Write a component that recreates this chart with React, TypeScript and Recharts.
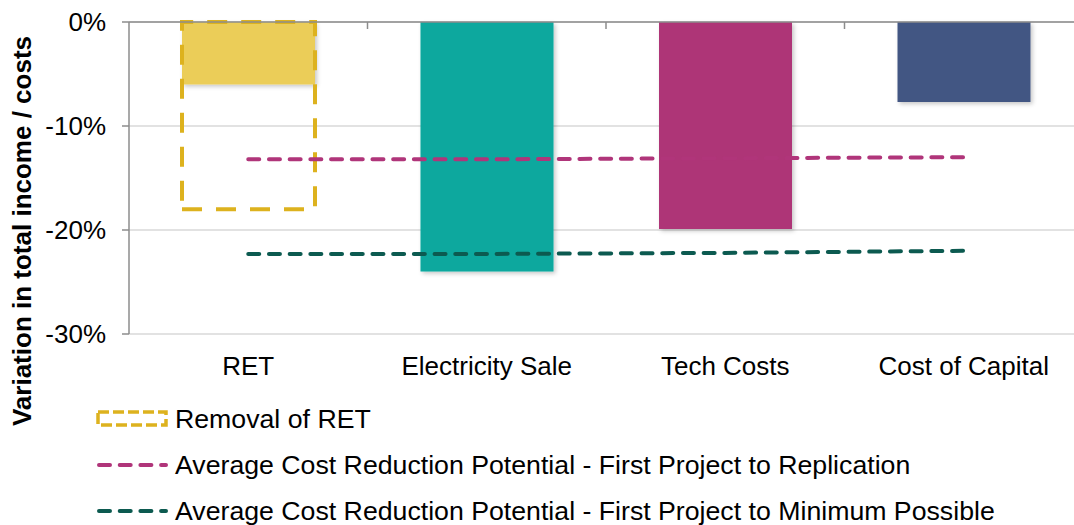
import React from "react";
import {
  ComposedChart,
  Bar,
  Line,
  Cell,
  XAxis,
  YAxis,
  CartesianGrid,
  Legend,
} from "recharts";

const categories = ["RET", "Electricity Sale", "Tech Costs", "Cost of Capital"];
const variation = [-6.0, -24.0, -19.9, -7.7];
const retRemoval = [-18.0, null, null, null];
const firstToReplication = [-13.2, -13.2, -13.1, -13.0];
const firstToMinimum = [-22.3, -22.3, -22.2, -22.0];
const yTicks = [0, -10, -20, -30];

const barColors = ["#EBCD59", "#0AA89E", "#AE3477", "#435783"];
const RET_OUTLINE = "#DDB21E";
const REPLICATION = "#B0357A";
const MINIMUM = "#0C5A50";
const AXIS_GREY = "#8C8C8C";
const FONT = '"Liberation Sans", Arial, sans-serif';
const FONT_SIZE = 26;

const legendItems = [
  { label: "Removal of RET", kind: "box", color: RET_OUTLINE },
  {
    label: "Average Cost Reduction Potential - First Project to Replication",
    kind: "line",
    color: REPLICATION,
  },
  {
    label: "Average Cost Reduction Potential - First Project to Minimum Possible",
    kind: "line",
    color: MINIMUM,
  },
];

const data = categories.map((c, i) => ({
  category: c,
  variation: variation[i],
  retRemoval: retRemoval[i],
  replication: firstToReplication[i],
  minimum: firstToMinimum[i],
}));

function LegendBlock() {
  return (
    <div style={{ fontFamily: FONT, fontSize: 26.7, color: "#000", lineHeight: 1 }}>
      {legendItems.map((it) => (
        <div
          key={it.label}
          style={{ display: "flex", alignItems: "center", height: 46, whiteSpace: "nowrap" }}
        >
          <svg width={74} height={20} style={{ marginRight: 5, flex: "none" }}>
            {it.kind === "box" ? (
              <rect
                x={2}
                y={3}
                width={68}
                height={13}
                fill="none"
                stroke={it.color}
                strokeWidth={3.5}
                strokeDasharray="11 4"
              />
            ) : (
              <line
                x1={3}
                y1={10}
                x2={70}
                y2={10}
                stroke={it.color}
                strokeWidth={4}
                strokeDasharray="11 9.7"
                strokeLinecap="round"
              />
            )}
          </svg>
          <span>{it.label}</span>
        </div>
      ))}
    </div>
  );
}

function AxisTitle() {
  return (
    <text
      x={22}
      y={231}
      transform="rotate(-90 22 231)"
      textAnchor="middle"
      dominantBaseline="central"
      fontFamily={FONT}
      fontSize={FONT_SIZE}
      fontWeight="bold"
      fill="#000"
    >
      Variation in total income / costs
    </text>
  );
}

// small mark at the right edge of each category band, hanging below the 0% line
function BoundaryTick(props: any) {
  const { x, y, payload, index, visibleTicksCount, width } = props;
  if (index === visibleTicksCount - 1) return <g />;
  const half =
    typeof payload?.offset === "number" && payload.offset > 0
      ? payload.offset
      : Number(width) / categories.length / 2;
  const edge = x + half;
  const top = Number.isFinite(y) ? y : 22;
  return <line x1={edge} y1={top} x2={edge} y2={top + 7} stroke={AXIS_GREY} strokeWidth={1.5} />;
}

export default function App() {
  return (
    <div
      style={{
        position: "absolute",
        left: 0,
        top: 0,
        width: 1074,
        height: 525,
        overflow: "hidden",
        background: "#fff",
      }}
    >
      <ComposedChart
        width={1083}
        height={525}
        data={data}
        margin={{ top: 21, right: 0, bottom: 151, left: 0 }}
      >
        <defs>
          <filter id="barShadow" x="-10%" y="-10%" width="130%" height="130%">
            <feDropShadow dx={2} dy={2} stdDeviation={2} floodColor="#000" floodOpacity={0.22} />
          </filter>
        </defs>
        <CartesianGrid vertical={false} stroke="#D9D9D9" strokeWidth={1.5} />
        <XAxis
          xAxisId="cat"
          dataKey="category"
          axisLine={false}
          tickLine={false}
          tickMargin={17}
          height={40}
          tick={{ fontSize: FONT_SIZE, fill: "#000", fontFamily: FONT }}
        />
        <XAxis xAxisId="outline" dataKey="category" hide />
        {/* category axis line drawn along 0% */}
        <XAxis
          xAxisId="frame"
          dataKey="category"
          orientation="top"
          height={1}
          tickSize={0}
          tickMargin={0}
          tickLine={false}
          tick={<BoundaryTick />}
          interval={0}
          axisLine={{ stroke: AXIS_GREY, strokeWidth: 1.5 }}
        />
        <YAxis
          domain={[-30, 0]}
          ticks={yTicks}
          width={129}
          tickSize={7}
          tickMargin={16}
          tickFormatter={(v: number) => `${v}%`}
          axisLine={{ stroke: AXIS_GREY, strokeWidth: 1.5 }}
          tickLine={{ stroke: AXIS_GREY, strokeWidth: 1.5 }}
          tick={{ fontSize: FONT_SIZE, fill: "#000", fontFamily: FONT }}
          label={<AxisTitle />}
        />
        <Bar xAxisId="cat" dataKey="variation" barSize={133} isAnimationActive={false}>
          {data.map((d, i) => (
            <Cell key={d.category} fill={barColors[i]} filter="url(#barShadow)" />
          ))}
        </Bar>
        <Bar
          xAxisId="outline"
          dataKey="retRemoval"
          barSize={133}
          fill="none"
          stroke={RET_OUTLINE}
          strokeWidth={4}
          strokeDasharray="20 14"
          isAnimationActive={false}
        />
        <Line
          xAxisId="cat"
          dataKey="replication"
          stroke={REPLICATION}
          strokeWidth={4}
          strokeDasharray="11 9.7"
          strokeLinecap="round"
          dot={false}
          activeDot={false}
          isAnimationActive={false}
        />
        <Line
          xAxisId="cat"
          dataKey="minimum"
          stroke={MINIMUM}
          strokeWidth={4}
          strokeDasharray="11 9.7"
          strokeLinecap="round"
          dot={false}
          activeDot={false}
          isAnimationActive={false}
        />
        <Legend
          layout="horizontal"
          verticalAlign="middle"
          align="center"
          content={<LegendBlock />}
          wrapperStyle={{ top: 396, left: 96, width: 978 }}
        />
      </ComposedChart>
    </div>
  );
}
